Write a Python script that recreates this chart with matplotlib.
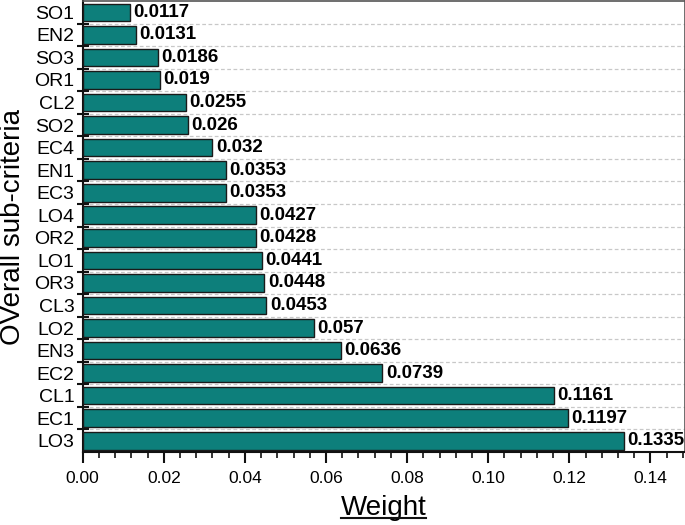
import matplotlib
matplotlib.use("Agg")
import matplotlib.pyplot as plt
import numpy as np

plt.rcParams['font.family'] = ['Liberation Sans', 'DejaVu Sans']

categories = ["LO3", "EC1", "CL1", "EC2", "EN3", "LO2", "CL3", "OR3", "LO1", "OR2",
              "LO4", "EC3", "EN1", "EC4", "SO2", "CL2", "OR1", "SO3", "EN2", "SO1"]
weights = [0.1335, 0.1197, 0.1161, 0.0739, 0.0636, 0.057, 0.0453, 0.0448, 0.0441, 0.0428,
           0.0427, 0.0353, 0.0353, 0.032, 0.026, 0.0255, 0.019, 0.0186, 0.0131, 0.0117]
value_labels = ["0.1335", "0.1197", "0.1161", "0.0739", "0.0636", "0.057", "0.0453", "0.0448",
                "0.0441", "0.0428", "0.0427", "0.0353", "0.0353", "0.032", "0.026", "0.0255",
                "0.019", "0.0186", "0.0131", "0.0117"]
xticks = [0.00, 0.02, 0.04, 0.06, 0.08, 0.10, 0.12, 0.14]
xtick_labels = ["0.00", "0.02", "0.04", "0.06", "0.08", "0.10", "0.12", "0.14"]

fig = plt.figure(figsize=(6.85, 5.25), dpi=100)
ax = fig.add_axes([0.1207, 0.139, 0.8786, 0.859])

n = len(categories)
y = np.arange(n)
ax.barh(y, weights, height=0.78, color="#0d7f7b", edgecolor="#1a1a1a", linewidth=1.0, zorder=3)

for yi, w, lab in zip(y, weights, value_labels):
    ax.annotate(lab, (w, yi), xytext=(2.5, 0), textcoords="offset points",
                ha="left", va="center", fontsize=13.5, fontweight="bold", color="#000000", zorder=4)

ax.set_ylim(-0.5, n - 0.5)
ax.set_xlim(0, 0.1484)

ax.set_yticks(y)
ax.set_yticklabels(categories, fontsize=14)
ax.set_yticks(np.arange(n - 1) + 0.5, minor=True)
ax.tick_params(axis="y", which="major", length=0, pad=6)
ax.tick_params(axis="y", which="minor", direction="inout", length=9, width=1.5, color="#111111")
ax.grid(axis="y", which="minor", linestyle=(0, (3, 2)), color="#c8c8c8", linewidth=0.9, zorder=0)

ax.set_xticks(xticks)
ax.set_xticklabels(xtick_labels, fontsize=12.5)
ax.set_xticks(np.arange(0, 0.1484, 0.004), minor=True)
ax.tick_params(axis="x", which="major", direction="out", length=8, width=1.5, color="#111111", pad=6)
ax.tick_params(axis="x", which="minor", direction="out", length=4, width=1.2, color="#111111")

for side in ["left", "bottom"]:
    ax.spines[side].set_linewidth(1.5)
    ax.spines[side].set_color("#111111")
for side in ["top", "right"]:
    ax.spines[side].set_linewidth(1.2)
    ax.spines[side].set_color("#555555")

ax.set_ylabel("OVerall sub-criteria", fontsize=20, va="center")
ax.yaxis.set_label_coords(-0.1165, 0.5)
xl = ax.set_xlabel("Weight", fontsize=20, labelpad=6)
fig.canvas.draw()
# underline for the x label
bb = xl.get_window_extent()
inv = fig.transFigure.inverted()
(x0, y0), (x1, y1) = inv.transform([[bb.x0, bb.y0], [bb.x1, bb.y1]])
fig.add_artist(plt.Line2D([x0, x1], [y0 + 0.006, y0 + 0.006], transform=fig.transFigure,
                          color="#111111", linewidth=1.5))

fig.savefig("out.png", dpi=100)
